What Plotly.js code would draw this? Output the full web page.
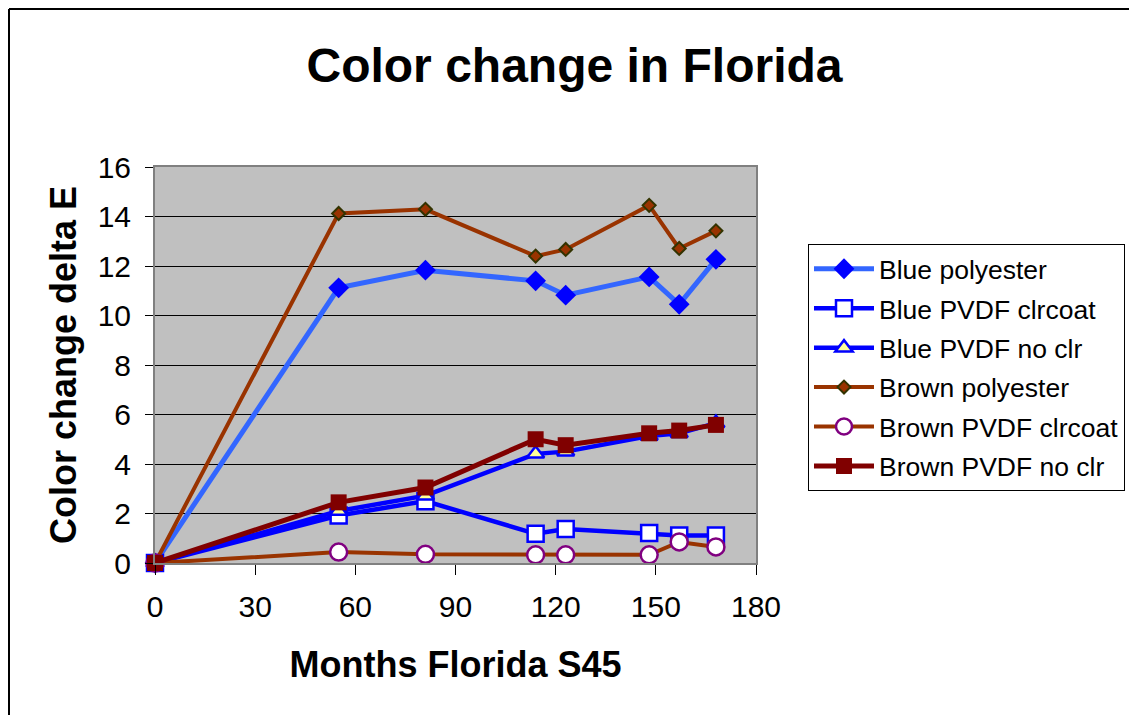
<!DOCTYPE html>
<html><head><meta charset="utf-8">
<script src="https://cdn.plot.ly/plotly-3.0.1.min.js"></script>
<style>html,body{margin:0;padding:0;background:#fff}#chart{width:1129px;height:715px}</style>
</head><body><div id="chart"></div>
<script>
const months = [0, 55, 81, 114, 123, 148, 157, 168];
const bluePolyester    = [0, 11.12, 11.83, 11.40, 10.82, 11.56, 10.45, 12.27];
const bluePVDFClrcoat  = [0, 1.92, 2.50, 1.18, 1.37, 1.21, 1.11, 1.11];
const bluePVDFNoClr    = [0, 2.10, 2.72, 4.41, 4.50, 5.13, 5.24, 5.65];
const brownPolyester   = [0, 14.12, 14.29, 12.40, 12.67, 14.45, 12.71, 13.42];
const brownPVDFClrcoat = [0, 0.44, 0.35, 0.33, 0.33, 0.33, 0.85, 0.65];
const brownPVDFNoClr   = [0, 2.45, 3.05, 5.00, 4.76, 5.24, 5.35, 5.58];
const seriesNames = ['Blue polyester', 'Blue PVDF clrcoat', 'Blue PVDF no clr',
                     'Brown polyester', 'Brown PVDF clrcoat', 'Brown PVDF no clr'];
const xTickVals = [0, 30, 60, 90, 120, 150, 180];
const yTickVals = [0, 2, 4, 6, 8, 10, 12, 14, 16];
const chartTitle = 'Color change in Florida';
const xTitle = 'Months Florida S45';
const yTitle = 'Color change delta E';

const W = 1129, H = 715;
const M = {l: 155, r: 373, t: 167, b: 152, autoexpand: false};
const pw = W - M.l - M.r, ph = H - M.t - M.b;
const px = x => (x - M.l) / pw;
const py = y => (H - M.b - y) / ph;

const styles = [
  {line: {color: '#3366FF', width: 5}, marker: {symbol: 'diamond', size: 16, color: '#0000FF', line: {width: 0}}},
  {line: {color: '#0000FF', width: 4.5}, marker: {symbol: 'square', size: 16, color: '#FFFFFF', line: {color: '#0000FF', width: 2.5}}},
  {line: {color: '#0000FF', width: 4.5}, marker: {symbol: 'triangle-up', size: 15, color: '#FFFF99', line: {color: '#0000FF', width: 2.5}}},
  {line: {color: '#993300', width: 4}, marker: {symbol: 'diamond', size: 10, color: '#993300', line: {color: '#333300', width: 2}}},
  {line: {color: '#993300', width: 4}, marker: {symbol: 'circle', size: 17, color: '#FFFFFF', line: {color: '#800080', width: 2.5}}},
  {line: {color: '#800000', width: 5}, marker: {symbol: 'square', size: 16, color: '#800000', line: {width: 0}}}
];
const values = [bluePolyester, bluePVDFClrcoat, bluePVDFNoClr, brownPolyester, brownPVDFClrcoat, brownPVDFNoClr];

const traces = values.map((v, i) => ({
  type: 'scatter', mode: 'lines+markers', x: months, y: v, name: seriesNames[i],
  legendgroup: 'g' + i, line: styles[i].line, marker: styles[i].marker, cliponaxis: false
}));

const font = 'Liberation Sans, Arial, sans-serif';
const layout = {
  width: W, height: H, margin: M, paper_bgcolor: '#FFFFFF', plot_bgcolor: '#C0C0C0',
  font: {family: font, color: '#000'},
  title: {text: '<b>' + chartTitle + '</b>', font: {size: 48, family: font, color: '#000'},
          xref: 'container', x: 574.5 / W, xanchor: 'center', yref: 'container', y: 1 - 65 / H, yanchor: 'middle'},
  xaxis: {range: [0, 180], tickvals: xTickVals, ticks: 'outside', ticklen: 10, tickcolor: '#000', tickwidth: 1,
          showgrid: false, zeroline: false, showline: true, linecolor: '#808080', linewidth: 2, mirror: true,
          tickfont: {size: 30, family: font}, ticklabelstandoff: 6, automargin: false,
          title: {text: '<b>' + xTitle + '</b>', font: {size: 36, family: font}, standoff: 30}},
  yaxis: {range: [0, 16], tickvals: yTickVals, ticks: 'outside', ticklen: 8, tickcolor: '#000', tickwidth: 1,
          showgrid: true, gridcolor: '#000000', gridwidth: 1, zeroline: false,
          showline: true, linecolor: '#808080', linewidth: 2, mirror: true,
          tickfont: {size: 30, family: font}, ticklabelstandoff: 8, automargin: false,
          title: {text: '<b>' + yTitle + '</b>', font: {size: 36, family: font}, standoff: 10}},
  showlegend: true,
  legend: {x: px(808), y: py(244), xanchor: 'left', yanchor: 'top', bgcolor: '#FFFFFF',
           bordercolor: '#000000', borderwidth: 1, font: {size: 26.5, family: font},
           tracegroupgap: 2, itemwidth: 60},
  shapes: [
    {type: 'line', xref: 'paper', yref: 'paper', x0: px(9), x1: px(9), y0: py(9), y1: py(H + 5), line: {color: '#000', width: 2}},
    {type: 'line', xref: 'paper', yref: 'paper', x0: px(9), x1: px(W + 5), y0: py(9), y1: py(9), line: {color: '#000', width: 2}}
  ]
};
Plotly.newPlot('chart', traces, layout, {staticPlot: true});
</script></body></html>
